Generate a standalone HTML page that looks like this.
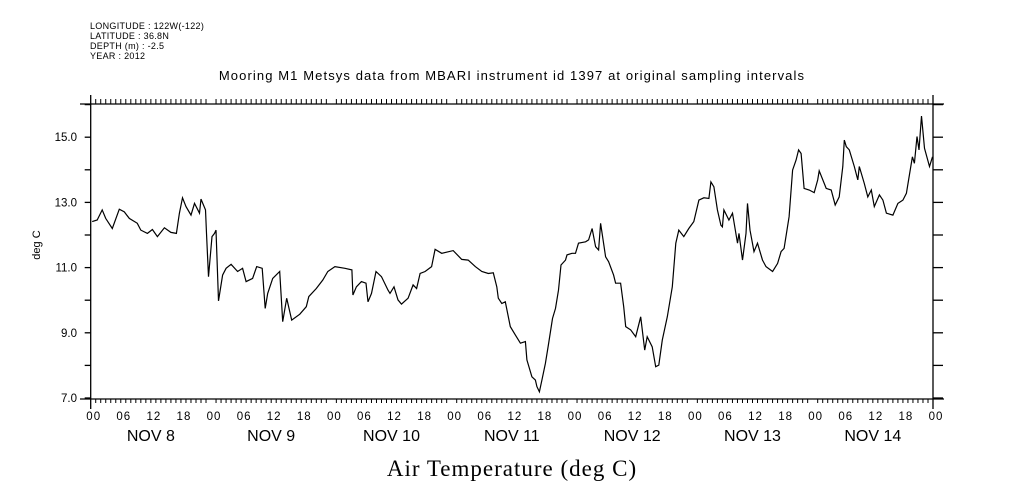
<!DOCTYPE html>
<html><head><meta charset="utf-8"><style>
html,body{margin:0;padding:0;background:#fff;}
svg{display:block;font-family:"Liberation Sans",sans-serif;}
</style></head><body>
<svg id="chart" width="1009" height="504" viewBox="0 0 1009 504" xmlns="http://www.w3.org/2000/svg">
<g font-size="9" fill="#000" letter-spacing="0.3">
<text x="90" y="29">LONGITUDE : 122W(-122)</text>
<text x="90" y="39">LATITUDE : 36.8N</text>
<text x="90" y="49">DEPTH (m) : -2.5</text>
<text x="90" y="59">YEAR : 2012</text>
</g>
<text x="512" y="80" text-anchor="middle" font-size="13" letter-spacing="1.1">Mooring M1 Metsys data from MBARI instrument id 1397 at original sampling intervals</text>
<g id="axes"></g>
<g id="series"></g>
<text x="40" y="245" font-size="11" text-anchor="middle" transform="rotate(-90 40 245)">deg C</text>
<text x="512" y="476" text-anchor="middle" font-family="'Liberation Serif',serif" font-size="23" letter-spacing="1">Air Temperature (deg C)</text>
</svg>
<script>
const hours=[0.3,1.3,2.3,3,4.3,5.7,6.7,7.7,9.3,10,11.3,12.3,13.3,14.7,16,17.1,17.7,18.3,19,20,20.7,21.7,22,22.9,23.1,23.5,24.2,24.7,25,25.5,26.3,27,28,29.3,30.3,31,32.3,33.1,34.2,34.8,35.3,36.3,37.7,38.3,39.1,40.1,41.7,43,43.5,45,46.3,47.3,48.7,50.7,52.1,52.3,53,54,54.9,55.3,56,56.9,58,59.3,59.7,60.5,61.3,62,63.3,64.3,65,65.7,66.7,68,68.7,70,72.3,74,75.3,76.7,78,79.3,80.3,81,81.3,82,82.7,83.7,84.7,85.7,86.7,87,88,88.7,89,89.5,90,90.7,91.3,92.1,92.7,93.3,93.8,94.7,95,96,96.7,97.3,98.7,99.3,100,100.7,101.3,101.7,102.7,103.3,104.3,104.7,105.7,106.3,106.7,107.7,108.7,109.7,110.5,111,112,112.7,113.3,114,115,116,116.7,117.3,118.3,119.3,120.3,121.3,122.3,123.3,123.7,124.3,125,125.7,126,126.3,127.3,128,129,129.3,130,130.7,131,131.5,132.3,133,134,134.7,136,137,137.7,138.3,139.3,140,140.7,141.2,141.7,142.3,143.3,144.3,145,145.3,146.7,147.7,148.5,149.3,150,150.3,150.7,151.3,152.3,153,153.3,154.3,155,155.7,156.3,157.3,158,158.7,160,161,162,162.7,163.3,163.9,164.3,164.8,165.2,165.7,166.3,167.3,167.9];
const temps=[12.41,12.46,12.77,12.51,12.2,12.79,12.71,12.51,12.36,12.15,12.05,12.17,11.95,12.22,12.08,12.05,12.67,13.14,12.87,12.61,12.97,12.67,13.1,12.77,12.05,10.72,11.95,12.05,12.15,9.98,10.77,10.98,11.1,10.88,10.98,10.57,10.67,11.03,10.98,9.75,10.21,10.67,10.88,9.34,10.06,9.39,9.57,9.8,10.11,10.36,10.62,10.88,11.03,10.98,10.93,10.16,10.41,10.57,10.52,9.95,10.21,10.88,10.72,10.31,10.21,10.41,10.01,9.88,10.06,10.47,10.36,10.82,10.88,11.03,11.56,11.44,11.52,11.25,11.23,11.03,10.88,10.82,10.84,10.41,10.06,9.9,9.95,9.19,8.93,8.68,8.73,8.17,7.65,7.55,7.35,7.19,7.55,8.06,8.63,9.44,9.75,10.31,11.08,11.23,11.39,11.44,11.44,11.75,11.79,11.85,12.2,11.64,11.54,12.36,11.33,11.18,10.77,10.52,10.52,9.8,9.19,9.09,8.88,9.49,8.47,8.88,8.57,7.96,8.01,8.78,9.49,10.41,11.75,12.15,11.95,12.2,12.41,13.07,13.14,13.12,13.63,13.48,12.77,12.3,12.25,12.77,12.46,12.67,11.75,12.05,11.23,12.05,12.97,12.15,11.49,11.75,11.23,11.03,10.88,11.13,11.49,11.59,12.56,13.99,14.3,14.61,14.5,13.43,13.38,13.3,13.69,13.97,13.43,13.38,12.92,13.17,14.1,14.91,14.71,14.61,14.1,13.69,14.1,13.58,13.17,13.38,12.87,13.23,13.07,12.67,12.61,12.97,13.07,13.28,13.84,14.4,14.2,15.02,14.61,15.65,14.66,14.1,14.4];
const yTicks=[7,9,11,13,15];
const dayLabels=["NOV  8","NOV  9","NOV 10","NOV 11","NOV 12","NOV 13","NOV 14"];
const hourLabels=["00","06","12","18"];

const NS="http://www.w3.org/2000/svg";
const X0=90.7,X1=933,Y0=399,YT=104;
const xs=h=>X0+(X1-X0)*h/168;
const ys=v=>398-(v-7)*32.6;
const ax=document.getElementById('axes'),se=document.getElementById('series');
function mk(tag,attrs,parent){const e=document.createElementNS(NS,tag);for(const k in attrs)e.setAttribute(k,attrs[k]);parent.appendChild(e);return e;}
function line(x1,y1,x2,y2,p,w){return mk('line',{x1,y1,x2,y2,stroke:'#000','stroke-width':w||1.3},p);}
let e;
e=line(80,Y0,944,Y0,ax);


e=line(80,YT,944,YT,ax);


e=line(X0,95,X0,409,ax);


e=line(X1,95,X1,409,ax);


for(let h=0;h<=168;h+=1){
  const x=xs(h),maj=h%24===0;
  if(!maj){line(x,Y0,x,Y0+4,ax,1);line(x,YT,x,YT-5,ax,1);}
  if(h%6===0){
    e=mk('text',{x:x+3,y:420,'text-anchor':'middle','font-size':11.5,'letter-spacing':1},ax);
    e.textContent=hourLabels[(h/6)%4];
    
    
  }
}
dayLabels.forEach((d,i)=>{
  e=mk('text',{x:xs(i*24+12),y:441,'text-anchor':'middle','font-size':16,'xml:space':'preserve'},ax);
  e.textContent=d;
  
  
});
for(let v=7;v<=16;v+=1){
  const y=ys(v);
  line(X0-6,y,X0,y,ax);line(X1,y,X1+10,y,ax);
}
yTicks.forEach(v=>{
  e=mk('text',{x:77,y:ys(v)+4,'text-anchor':'end','font-size':11.5},ax);
  e.textContent=v.toFixed(1);
  
  
});
const pts=hours.map((h,i)=>xs(h).toFixed(1)+','+ys(temps[i]).toFixed(1)).join(' ');
e=mk('polyline',{points:pts,fill:'none',stroke:'#000','stroke-width':1.2},se);


</script>
</body></html>
